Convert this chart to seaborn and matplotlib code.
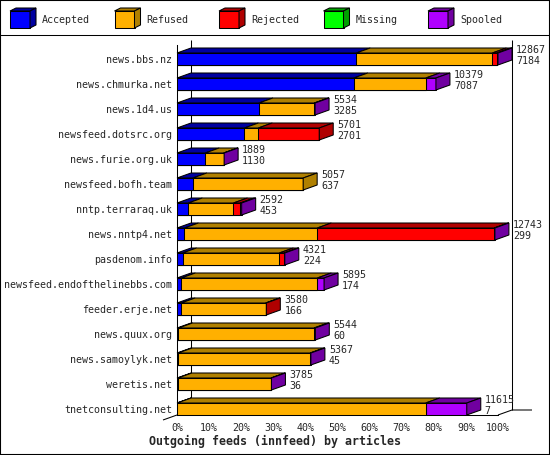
"""Outgoing feeds (innfeed) by articles - 3d style stacked bars"""
import numpy as np
import pandas as pd
import matplotlib
matplotlib.use('Agg')
import matplotlib.pyplot as plt
from matplotlib.patches import Polygon, Rectangle
from matplotlib.lines import Line2D
import seaborn as sns

"""Data"""
hosts = ['news.bbs.nz', 'news.chmurka.net', 'news.1d4.us', 'newsfeed.dotsrc.org',
         'news.furie.org.uk', 'newsfeed.bofh.team', 'nntp.terraraq.uk', 'news.nntp4.net',
         'pasdenom.info', 'newsfeed.endofthelinebbs.com', 'feeder.erje.net',
         'news.quux.org', 'news.samoylyk.net', 'weretis.net', 'tnetconsulting.net']
offered = [12867, 10379, 5534, 5701, 1889, 5057, 2592, 12743, 4321, 5895, 3580, 5544, 5367, 3785, 11615]
accepted = [7184, 7087, 3285, 2701, 1130, 637, 453, 299, 224, 174, 166, 60, 45, 36, 7]
refused = [5455, 2886, 2219, 557, 741, 4420, 1810, 5325, 3877, 5450, 3389, 5432, 5292, 3732, 9962]
rejected = [176, 0, 0, 2443, 0, 0, 270, 7089, 190, 0, 25, 0, 0, 0, 0]
missing = [0, 0, 0, 0, 0, 0, 0, 0, 0, 0, 0, 0, 0, 0, 0]
spooled = [52, 406, 30, 0, 18, 0, 59, 30, 30, 271, 0, 52, 30, 17, 1646]

labels = ['Accepted', 'Refused', 'Rejected', 'Missing', 'Spooled']
front_colors = ['#0000ff', '#ffb000', '#ff0000', '#00ff00', '#b000ff']
side_colors = ['#0000a0', '#b08000', '#b00000', '#00a000', '#7000a0']

df = pd.DataFrame({'host': hosts, 'Accepted': accepted, 'Refused': refused,
                   'Rejected': rejected, 'Missing': missing, 'Spooled': spooled})
segs = df[labels]
scale = 100.0 / max(offered)
pct = segs.cumsum(axis=1) * scale

"""Layout (pixels)"""
W, H = 550, 455
px_left, px_right = 177, 498
px_top, px_bottom = 45, 415
first_center, pitch = 59, 25
bar_px = 12
depth_x, depth_y = 14, 5
lw = 0.75

sns.set_theme(style='white')
plt.rcParams['font.family'] = ['DejaVu Sans Mono']
fs = 7.2

fig = plt.figure(figsize=(W / 100, H / 100), dpi=100)
ax = fig.add_axes([px_left / W, 1 - px_bottom / H,
                   (px_right - px_left) / W, (px_bottom - px_top) / H])

# stacked front faces: longest cumulative first, shorter on top
for k in reversed(range(len(labels))):
    sns.barplot(x=pct[labels[k]].values, y=df['host'], color=front_colors[k],
                saturation=1, width=bar_px / pitch, edgecolor='black', linewidth=lw,
                errorbar=None, orient='h', ax=ax, zorder=3)

y_floor = (px_bottom - first_center) / pitch
y_ceil = (px_top - first_center) / pitch
ax.set_ylim(y_floor, y_ceil)
ax.set_xlim(0, 100)
dx = depth_x * 100.0 / (px_right - px_left)
dy = -depth_y / pitch
half = bar_px / pitch / 2

# top and side faces
for i in range(len(hosts)):
    y_top, y_bot = i - half, i + half
    start, last = 0.0, 0
    for k in range(len(labels)):
        w = segs.iloc[i, k] * scale
        if w <= 0:
            continue
        ax.add_patch(Polygon([(start, y_top), (start + w, y_top),
                              (start + w + dx, y_top + dy), (start + dx, y_top + dy)],
                             closed=True, fc=side_colors[k], ec='black', lw=lw,
                             zorder=3, clip_on=False))
        start += w
        last = k
    ax.add_patch(Polygon([(start, y_top), (start + dx, y_top + dy),
                          (start + dx, y_bot + dy), (start, y_bot)],
                         closed=True, fc=side_colors[last], ec='black', lw=lw,
                         zorder=3, clip_on=False))
    end = pct.iloc[i, -1]
    ax.annotate(str(offered[i]), xy=(end, i), xytext=(depth_x + 4, 9),
                textcoords='offset pixels', ha='left', va='center', fontsize=fs,
                annotation_clip=False)
    ax.annotate(str(accepted[i]), xy=(end, i), xytext=(depth_x + 4, -2),
                textcoords='offset pixels', ha='left', va='center', fontsize=fs,
                annotation_clip=False)

# back walls and floor bits
ext = 20 * 100.0 / (px_right - px_left)
frame = dict(color='black', lw=lw, clip_on=False, zorder=1, solid_capstyle='butt')
ax.plot([dx, dx], [y_floor + dy, y_ceil + dy], **frame)
ax.plot([100 + dx, 100 + dx], [y_floor + dy, y_ceil + dy], **frame)
ax.plot([100, 100 + dx, 100 + dx + ext], [y_floor, y_floor + dy, y_floor + dy], **frame)
ax.plot([0, -dx], [y_floor, y_floor - dy], **frame)

sns.despine(ax=ax)
for s in ['left', 'bottom']:
    ax.spines[s].set_color('black')
    ax.spines[s].set_linewidth(lw)
ax.set_xticks(np.arange(0, 101, 10))
ax.set_xticklabels([f'{t}%' for t in range(0, 101, 10)], fontsize=fs)
ax.tick_params(axis='x', direction='out', length=3.6, width=lw, color='black', pad=2)
ax.tick_params(axis='y', length=0, pad=3.6, labelsize=fs)
ax.set_xlabel('')
ax.set_ylabel('')
ax.set_facecolor('white')

fig.text(0.5, 1 - 441 / H, 'Outgoing feeds (innfeed) by articles', ha='center',
         va='center', fontsize=8.4, fontweight='bold')

"""Legend"""
lax = fig.add_axes([0, 1 - 35 / H, 1, 35 / H])
lax.set_xlim(0, W)
lax.set_ylim(35, 0)
lax.axis('off')
for k, lab in enumerate(labels):
    x0 = 10 + 104.5 * k
    lax.add_patch(Rectangle((x0, 11), 20, 17, fc=front_colors[k], ec='black', lw=lw))
    lax.add_patch(Polygon([(x0, 11), (x0 + 6, 8), (x0 + 26, 8), (x0 + 20, 11)],
                          closed=True, fc=side_colors[k], ec='black', lw=lw))
    lax.add_patch(Polygon([(x0 + 20, 11), (x0 + 26, 8), (x0 + 26, 25), (x0 + 20, 28)],
                          closed=True, fc=side_colors[k], ec='black', lw=lw))
    lax.text(x0 + 32, 20, lab, ha='left', va='center', fontsize=fs)

fig.add_artist(Line2D([0, 1], [1 - 35 / H, 1 - 35 / H], color='black', lw=lw,
                      transform=fig.transFigure))
fig.add_artist(Rectangle((0, 0), 1, 1, transform=fig.transFigure, fill=False,
                         ec='black', lw=1.5))

fig.savefig('out.png', dpi=100, facecolor='white')
